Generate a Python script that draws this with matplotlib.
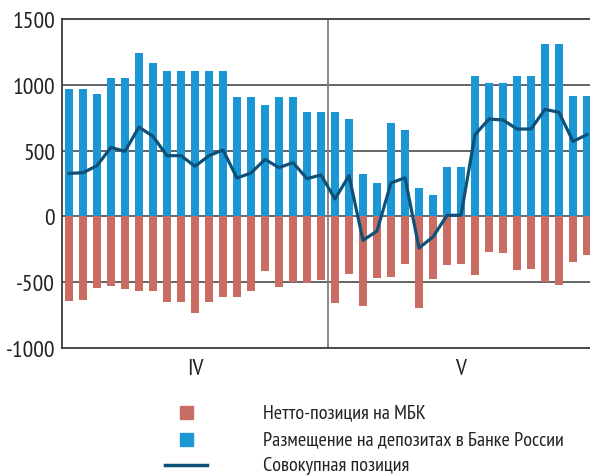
import matplotlib
matplotlib.use("Agg")
import matplotlib.pyplot as plt
from matplotlib.patches import Rectangle
from matplotlib.lines import Line2D
import numpy as np

plt.rcParams['font.family'] = ['PT Sans Narrow', 'Roboto Condensed', 'Archivo Narrow', 'DejaVu Sans']

deposits = [969, 969, 934, 1051, 1051, 1246, 1165, 1109, 1109, 1109, 1109, 1109,
            906, 906, 850, 906, 906, 797, 797,
            797, 741, 320, 254, 711, 660, 216, 165, 376, 376, 1066, 1013, 1013,
            1066, 1066, 1312, 1312, 916, 916]
net_mbk = [-645, -640, -548, -530, -556, -569, -569, -655, -655, -734, -655, -614,
           -617, -571, -419, -538, -503, -505, -482,
           -662, -437, -680, -467, -462, -365, -695, -475, -368, -365, -444, -274, -282,
           -406, -401, -503, -523, -348, -294]
total = [327, 332, 386, 525, 495, 680, 609, 462, 462, 381, 462, 505,
         292, 330, 434, 371, 409, 287, 315,
         132, 310, -183, -112, 254, 294, -241, -157, 8, 8, 622, 741, 734,
         665, 665, 815, 792, 571, 622]
month_labels = ["IV", "V"]
yticks = [-1000, -500, 0, 500, 1000, 1500]
legend_labels = ["Нетто-позиция на МБК", "Размещение на депозитах в Банке России", "Совокупная позиция"]

c_blue = "#1b97d5"
c_red = "#c96c63"
c_line = "#0e5178"
c_text = "#222222"

W, H = 590, 477
fig = plt.figure(figsize=(W / 100, H / 100), dpi=100)
ax = fig.add_axes([62 / W, 1 - 348.6 / H, 1 - 62 / W, (348.6 - 20.4) / H])

x = np.arange(len(deposits))
ax.bar(x, deposits, width=0.58, color=c_blue, zorder=2)
ax.bar(x, net_mbk, width=0.58, color=c_red, zorder=2)
ax.plot(x, total, color=c_line, lw=2.3, zorder=3)

ax.set_ylim(-1000, 1500)
ax.set_xlim(-0.5, (W - 62) / 14 - 0.5)
ax.set_yticks(yticks)
ax.set_yticklabels([str(v) for v in yticks], fontsize=17)
ax.tick_params(axis='y', length=0, pad=5, colors=c_text)
ax.set_xticks([])
for v in [-500, 0, 500, 1000]:
    ax.axhline(v, color="#3a3a3a", lw=1.1, zorder=1)
n1 = 19
n_total = len(deposits)
ax.axvline(n1 - 0.5, color="#808080", lw=1.3, zorder=1)
for s in ['top', 'bottom', 'left']:
    ax.spines[s].set_color("#3a3a3a")
    ax.spines[s].set_linewidth(1.3)
ax.spines['right'].set_visible(False)

ax.text((-0.5 + n1 - 0.5) / 2, -1080, month_labels[0], ha='center', va='top', fontsize=17, color=c_text)
ax.text((n1 - 0.5 + n_total - 0.5) / 2, -1080, month_labels[1], ha='center', va='top', fontsize=17, color=c_text)


def fx(px):
    return px / W


def fy(py):
    return 1 - py / H


sq = 13
fig.add_artist(Rectangle((fx(186 - sq / 2), fy(413 + sq / 2)), sq / W, sq / H,
                         transform=fig.transFigure, color=c_red))
fig.add_artist(Rectangle((fx(186 - sq / 2), fy(440 + sq / 2)), sq / W, sq / H,
                         transform=fig.transFigure, color=c_blue))
fig.add_artist(Line2D([fx(165), fx(207)], [fy(466), fy(466)], transform=fig.transFigure,
                      color=c_line, lw=2.5))
for lab, py in zip(legend_labels, [413, 440, 466]):
    fig.text(fx(263), fy(py), lab, ha='left', va='center', fontsize=14.5, color=c_text)

fig.savefig("out.png", dpi=100)
